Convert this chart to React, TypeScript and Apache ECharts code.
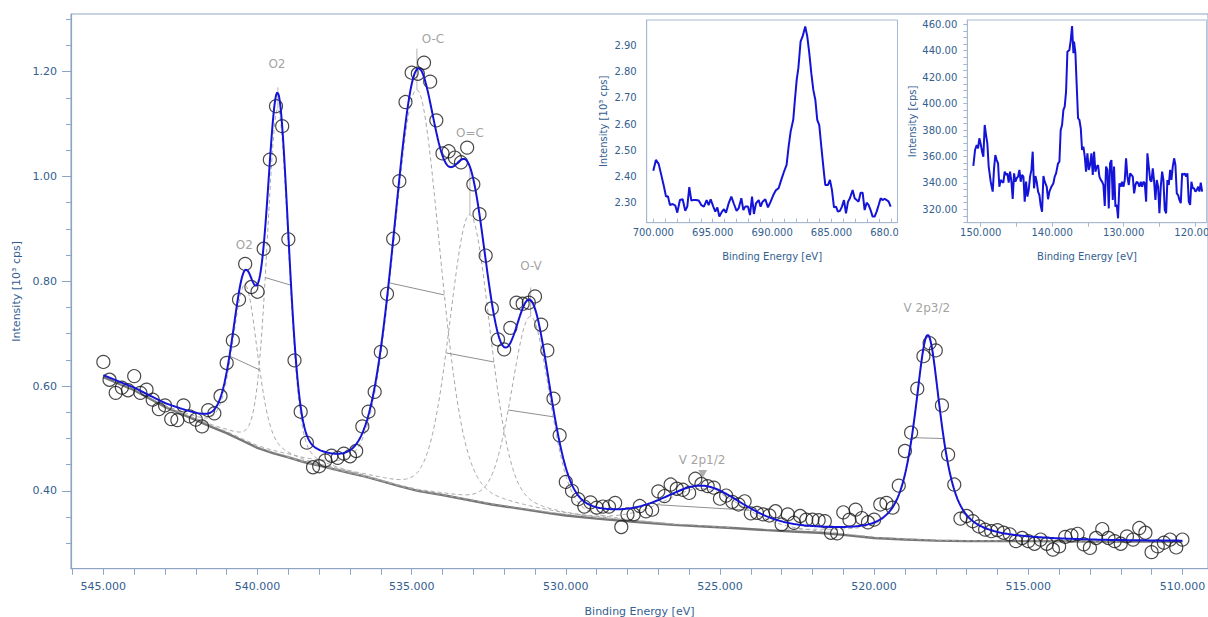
import React, { useEffect, useRef } from "react";
import * as echarts from "echarts";

// ---------- measured O 1s / V 2p region (binding energy eV, intensity 10^3 cps) ----------
const measured: [number, number][] = [
  [545.0,0.646],[544.8,0.612],[544.6,0.587],[544.4,0.597],[544.2,0.592],[544.0,0.619],[543.8,0.587],[543.6,0.593],[543.4,0.574],[543.2,0.556],
  [543.0,0.563],[542.8,0.537],[542.6,0.535],[542.4,0.563],[542.2,0.542],[542.0,0.536],[541.8,0.523],[541.6,0.554],[541.4,0.548],[541.2,0.581],
  [541.0,0.644],[540.8,0.687],[540.6,0.765],[540.4,0.833],[540.2,0.789],[540.0,0.780],[539.8,0.862],[539.6,1.032],[539.4,1.134],[539.2,1.096],
  [539.0,0.880],[538.8,0.649],[538.6,0.551],[538.4,0.492],[538.2,0.445],[538.0,0.447],[537.8,0.458],[537.6,0.467],[537.4,0.463],[537.2,0.471],
  [537.0,0.466],[536.8,0.476],[536.6,0.523],[536.4,0.551],[536.2,0.589],[536.0,0.665],[535.8,0.776],[535.6,0.881],[535.4,0.991],[535.2,1.142],
  [535.0,1.198],[534.8,1.196],[534.6,1.217],[534.4,1.181],[534.2,1.107],[534.0,1.044],[533.8,1.048],[533.6,1.036],[533.4,1.027],[533.2,1.055],
  [533.0,0.985],[532.8,0.928],[532.6,0.849],[532.4,0.748],[532.2,0.689],[532.0,0.670],[531.8,0.711],[531.6,0.759],[531.4,0.757],[531.2,0.759],
  [531.0,0.771],[530.8,0.717],[530.6,0.668],[530.4,0.576],[530.2,0.506],[530.0,0.417],[529.8,0.400],[529.6,0.384],[529.4,0.370],[529.2,0.378],
  [529.0,0.368],[528.8,0.370],[528.6,0.370],[528.4,0.377],[528.2,0.331],[528.0,0.355],[527.8,0.355],[527.6,0.371],[527.4,0.361],[527.2,0.364],
  [527.0,0.399],[526.8,0.390],[526.6,0.412],[526.4,0.404],[526.2,0.402],[526.0,0.396],[525.8,0.423],[525.6,0.413],[525.4,0.409],[525.2,0.406],
  [525.0,0.385],[524.8,0.391],[524.6,0.379],[524.4,0.374],[524.2,0.380],[524.0,0.357],[523.8,0.358],[523.6,0.355],[523.4,0.353],[523.2,0.361],
  [523.0,0.336],[522.8,0.355],[522.6,0.339],[522.4,0.352],[522.2,0.345],[522.0,0.345],[521.8,0.344],[521.6,0.342],[521.4,0.320],[521.2,0.319],
  [521.0,0.359],[520.8,0.345],[520.6,0.364],[520.4,0.348],[520.2,0.340],[520.0,0.345],[519.8,0.374],[519.6,0.377],[519.4,0.368],[519.2,0.410],
  [519.0,0.476],[518.8,0.511],[518.6,0.595],[518.4,0.657],[518.2,0.682],[518.0,0.668],[517.8,0.563],[517.6,0.469],[517.4,0.412],[517.2,0.347],
  [517.0,0.352],[516.8,0.342],[516.6,0.332],[516.4,0.326],[516.2,0.323],[516.0,0.325],[515.8,0.320],[515.6,0.317],[515.4,0.304],[515.2,0.310],
  [515.0,0.304],[514.8,0.299],[514.6,0.307],[514.4,0.299],[514.2,0.288],[514.0,0.294],[513.8,0.312],[513.6,0.315],[513.4,0.318],[513.2,0.298],
  [513.0,0.291],[512.8,0.310],[512.6,0.327],[512.4,0.310],[512.2,0.304],[512.0,0.299],[511.8,0.313],[511.6,0.307],[511.4,0.329],[511.2,0.320],
  [511.0,0.283],[510.8,0.294],[510.6,0.301],[510.4,0.307],[510.2,0.292],[510.0,0.307],
];

// Shirley-type background
const backgroundKnots: [number, number][] = [
  [545.0,0.617],[544.0,0.592],[543.0,0.560],[542.0,0.535],[541.5,0.522],[541.0,0.510],[540.5,0.496],[540.0,0.482],
  [539.5,0.472],[539.0,0.464],[538.5,0.455],[538.0,0.448],[537.5,0.441],[537.0,0.434],[536.5,0.427],[536.0,0.419],
  [535.4,0.409],[534.8,0.400],[534.0,0.392],[533.2,0.383],[532.4,0.374],[531.5,0.366],[530.5,0.357],[530.0,0.353],
  [529.0,0.347],[527.8,0.341],[526.5,0.335],[525.5,0.332],[524.6,0.329],[523.5,0.325],[522.5,0.322],[521.8,0.320],
  [521.0,0.316],[520.0,0.310],[519.0,0.307],[518.0,0.305],[517.0,0.304],[515.0,0.304],[512.5,0.303],[510.0,0.303],
];

// fitted components (GL line shapes)
const peakNames = ["O2", "O2", "O-C", "O=C", "O-V", "V 2p1/2", "V 2p3/2"];
const peakCenter = [540.40, 539.34, 534.83, 533.11, 531.14, 525.56, 518.26];
const peakHeight = [0.30, 0.66, 0.765, 0.545, 0.37, 0.072, 0.39];
const peakFwhm = [0.95, 0.82, 1.78, 1.56, 1.46, 3.0, 1.03];
const peakMix = [0.3, 0.2, 0.2, 0.2, 0.2, 0.3, 0.85];

// peak labels
const labelEnergy = [540.43, 539.37, 534.31, 533.11, 531.13, 525.58, 518.29];
const labelIntensity = [0.870, 1.214, 1.262, 1.082, 0.830, 0.458, 0.748];
const stemTop: (number | null)[] = [null, 1.170, 1.244, 1.019, 0.788, null, null];
const markerV2p12: [number, number] = [525.56, 0.432];

// tick labels
const mainXLabels = [545, 540, 535, 530, 525, 520, 515, 510];
const mainXTicks = [546,545,544,543,542,541,540,539,538,537,536,535,534,533,532,531,530,529,528,527,526,525,524,523,522,521,520,519,518,517,516,515,514,513,512,511,510];
const mainYLabels = [0.4, 0.6, 0.8, 1.0, 1.2];
const mainYTicks = [0.30,0.35,0.40,0.45,0.50,0.55,0.60,0.65,0.70,0.75,0.80,0.85,0.90,0.95,1.00,1.05,1.10,1.15,1.20,1.25,1.30];

// inset A (N 1s region)
const insetA: [number, number][] = [
  [700.00,2.422],[699.78,2.463],[699.55,2.448],[699.33,2.406],[699.10,2.361],[698.93,2.323],[698.77,2.325],[698.60,2.291],[698.37,2.295],[698.15,2.289],
  [697.98,2.262],[697.76,2.310],[697.53,2.313],[697.31,2.269],[697.14,2.285],[696.97,2.359],[696.80,2.308],[696.63,2.310],[696.41,2.310],[696.18,2.308],
  [695.96,2.291],[695.74,2.285],[695.51,2.310],[695.34,2.291],[695.17,2.313],[694.95,2.285],[694.78,2.266],[694.61,2.282],[694.44,2.247],[694.22,2.266],
  [694.05,2.275],[693.88,2.262],[693.66,2.297],[693.43,2.323],[693.21,2.295],[692.99,2.269],[692.82,2.278],[692.59,2.317],[692.42,2.272],[692.26,2.285],
  [692.03,2.285],[691.86,2.253],[691.69,2.323],[691.53,2.257],[691.36,2.297],[691.13,2.310],[690.97,2.285],[690.80,2.304],[690.57,2.313],[690.35,2.282],
  [690.12,2.304],[689.90,2.329],[689.67,2.348],[689.45,2.355],[689.23,2.387],[689.00,2.418],[688.78,2.444],[688.61,2.514],[688.44,2.571],[688.22,2.616],
  [688.08,2.692],[687.93,2.768],[687.79,2.813],[687.60,2.915],[687.43,2.934],[687.21,2.972],[687.04,2.934],[686.87,2.870],[686.70,2.794],[686.53,2.730],
  [686.36,2.692],[686.20,2.616],[686.03,2.596],[685.83,2.501],[685.63,2.412],[685.52,2.367],[685.30,2.367],[685.13,2.387],[684.96,2.348],[684.79,2.282],
  [684.62,2.285],[684.46,2.266],[684.29,2.269],[684.12,2.285],[683.95,2.310],[683.78,2.259],[683.61,2.304],[683.45,2.317],[683.22,2.348],[683.05,2.317],
  [682.88,2.310],[682.72,2.304],[682.55,2.338],[682.38,2.338],[682.21,2.272],[682.04,2.300],[681.87,2.291],[681.71,2.272],[681.54,2.247],[681.37,2.247],
  [681.20,2.266],[681.03,2.291],[680.86,2.317],[680.70,2.310],[680.53,2.315],[680.36,2.310],[680.19,2.304],[680.02,2.285],
];
const insetAXLabels = [700, 695, 690, 685, 680];
const insetAXTicks = [700,699,698,697,696,695,694,693,692,691,690,689,688,687,686,685,684,683,682,681,680];
const insetAYLabels = [2.3, 2.4, 2.5, 2.6, 2.7, 2.8, 2.9];

// inset B (cps)
const insetB: [number, number][] = [
  [151.03,352.8],[150.79,364.9],[150.56,368.7],[150.37,366.2],[150.19,373.7],[150.00,369.4],[149.81,363.6],[149.63,359.8],[149.44,383.8],[149.25,376.2],
  [149.07,369.9],[148.88,352.3],[148.60,340.9],[148.32,333.4],[148.13,351.0],[147.95,361.1],[147.76,357.3],[147.57,354.8],[147.39,337.1],[147.20,342.2],
  [147.01,340.9],[146.83,340.2],[146.64,348.5],[146.45,346.0],[146.27,347.2],[146.08,340.2],[145.89,348.5],[145.70,340.9],[145.52,327.8],[145.33,347.2],
  [145.14,340.9],[144.96,343.5],[144.77,344.7],[144.58,349.8],[144.40,340.9],[144.21,346.0],[144.02,344.7],[143.84,325.8],[143.65,340.9],[143.46,329.6],
  [143.28,334.6],[143.09,344.7],[142.90,349.8],[142.72,363.6],[142.53,335.9],[142.34,345.2],[142.16,340.9],[141.97,333.4],[141.78,330.8],[141.60,322.8],
  [141.41,318.2],[141.22,345.2],[141.04,340.9],[140.76,337.1],[140.57,327.6],[140.38,333.4],[140.10,337.1],[139.82,339.7],[139.64,344.7],[139.45,347.2],
  [139.17,354.8],[138.98,356.1],[138.80,380.0],[138.61,383.8],[138.42,395.2],[138.24,397.7],[138.05,409.0],[137.86,439.3],[137.58,440.6],[137.39,448.1],
  [137.21,458.7],[137.02,438.1],[136.93,446.9],[136.74,438.1],
  [136.55,412.8],[136.37,388.9],[136.18,387.6],[135.99,381.3],[135.81,364.9],[135.62,367.4],[135.43,359.8],[135.25,348.5],[135.06,362.4],[134.87,349.8],
  [134.69,353.5],[134.50,362.4],[134.31,346.0],[134.13,363.6],[133.94,348.5],[133.75,352.3],[133.57,353.5],[133.38,344.7],[133.19,342.2],[133.01,340.9],
  [132.82,338.4],[132.63,322.5],[132.45,352.3],[132.26,349.8],[132.07,320.7],[131.89,354.8],[131.70,357.3],[131.51,327.1],[131.33,352.3],[131.14,322.0],
  [130.95,323.3],[130.77,313.2],[130.58,339.7],[130.39,337.1],[130.21,340.9],[130.02,337.1],[129.83,342.2],[129.65,358.6],[129.46,344.7],[129.27,338.4],
  [129.08,347.2],[128.90,346.0],[128.71,344.7],[128.52,332.1],[128.34,338.4],[128.15,340.9],[127.96,339.7],[127.78,337.1],[127.59,340.9],[127.40,337.1],
  [127.22,340.9],[127.03,339.7],[126.84,325.8],[126.66,362.4],[126.47,352.3],[126.28,342.2],[126.10,340.9],[125.91,351.0],[125.72,340.9],[125.54,327.1],
  [125.35,342.2],[125.16,337.1],[124.98,317.0],[124.79,337.1],[124.60,348.5],[124.42,342.2],[124.23,319.5],[124.04,317.0],[123.86,342.2],[123.67,338.4],
  [123.48,349.8],[123.30,342.2],[123.11,352.3],[122.92,358.6],[122.74,353.5],[122.55,332.1],[122.36,330.8],[122.18,327.1],[121.99,324.6],[121.80,347.2],
  [121.62,346.0],[121.43,347.2],[121.24,344.7],[121.06,347.2],[120.87,325.8],[120.68,323.3],[120.50,340.9],[120.31,335.9],[120.12,335.9],[119.94,333.4],
  [119.75,334.6],[119.56,337.1],[119.38,333.4],[119.19,340.2],[119.00,333.4],
];
const insetBXLabels = [150, 140, 130, 120];
const insetBXTicks = [150, 145, 140, 135, 130, 125, 120];
const insetBYLabels = [320, 340, 360, 380, 400, 420, 440, 460];
const insetBYTicks = [310,315,320,325,330,335,340,345,350,355,360,365,370,375,380,385,390,395,400,405,410,415,420,425,430,435,440,445,450,455,460];

// ---------- model helpers ----------
function backgroundAt(e: number): number {
  const k = backgroundKnots;
  if (e >= k[0][0]) return k[0][1];
  for (let i = 1; i < k.length; i++) {
    if (e >= k[i][0]) {
      const [e0, v0] = k[i - 1];
      const [e1, v1] = k[i];
      return v1 + ((v0 - v1) * (e - e1)) / (e0 - e1);
    }
  }
  return k[k.length - 1][1];
}
function component(i: number, e: number): number {
  const r = (e - peakCenter[i]) / peakFwhm[i];
  const g = Math.exp(-4 * Math.LN2 * r * r);
  const l = 1 / (1 + 4 * r * r);
  return peakHeight[i] * ((1 - peakMix[i]) * g + peakMix[i] * l);
}

const AXIS = "#8ea4c4";
const INSET_AXIS = "#a7b8d2";
const TEXT = "#33608f";
const FONT = "DejaVu Sans";

export default function App() {
  const ref = useRef<HTMLDivElement>(null);
  useEffect(() => {
    if (!ref.current) return;
    const chart = echarts.init(ref.current, undefined, { renderer: "svg" });

    const eStart = measured[0][0];
    const eEnd = measured[measured.length - 1][0];
    const grid: number[] = [];
    for (let e = eStart; e >= eEnd - 1e-9; e -= 0.02) grid.push(+e.toFixed(3));

    const envelope = grid.map((e) => {
      let v = backgroundAt(e);
      for (let i = 0; i < peakCenter.length; i++) v += component(i, e);
      return [e, v];
    });

    const compSeries: any[] = peakCenter.map((c, i) => {
      const pts: number[][] = [];
      grid.forEach((e) => {
        if (Math.abs(e - c) <= 4.5 * peakFwhm[i]) pts.push([e, backgroundAt(e) + component(i, e)]);
      });
      return {
        type: "line", name: peakNames[i] + " comp", xAxisIndex: 0, yAxisIndex: 0,
        data: pts, showSymbol: false, silent: true, z: 2,
        lineStyle: { color: "#a6a6a6", width: 1, type: [4, 3] },
      };
    });

    const fwhmSeries: any[] = peakCenter.map((c, i) => {
      const hi = c + peakFwhm[i] / 2;
      const lo = c - peakFwhm[i] / 2;
      return {
        type: "line", xAxisIndex: 0, yAxisIndex: 0, showSymbol: false, silent: true, z: 3,
        data: [
          [hi, backgroundAt(hi) + component(i, hi)],
          [lo, backgroundAt(lo) + component(i, lo)],
        ],
        lineStyle: { color: "#8f8f8f", width: 1 },
      };
    });

    const stemSeries: any[] = [];
    stemTop.forEach((top, i) => {
      if (top == null) return;
      const c = peakCenter[i];
      stemSeries.push({
        type: "line", xAxisIndex: 0, yAxisIndex: 0, showSymbol: false, silent: true, z: 3,
        data: [[c, top], [c, backgroundAt(c) + component(i, c)]],
        lineStyle: { color: "#b5b5b5", width: 1 },
      });
    });

    const axisNameStyle = (size: number) => ({ color: TEXT, fontSize: size, fontFamily: FONT });

    const option: any = {
      animation: false,
      backgroundColor: "#ffffff",
      grid: [
        { left: 71, top: 14, right: 0, bottom: 48.3, show: true, borderColor: AXIS, borderWidth: 1, containLabel: false, outerBoundsMode: "none" },
        { left: 646.7, top: 20, width: 250.8, height: 202.7, show: true, borderColor: INSET_AXIS, borderWidth: 1, containLabel: false, outerBoundsMode: "none" },
        { left: 967.3, top: 20, width: 239.4, height: 202.7, show: true, borderColor: INSET_AXIS, borderWidth: 1, containLabel: false, outerBoundsMode: "none" },
      ],
      xAxis: [
        {
          type: "value", gridIndex: 0, min: 509.17, max: 546.05, inverse: true,
          axisLine: { show: true, onZero: false, lineStyle: { color: AXIS, width: 1.2 } },
          axisTick: { show: true, customValues: mainXTicks, length: 6, lineStyle: { color: AXIS } },
          axisLabel: { customValues: mainXLabels, formatter: (v: number) => v.toFixed(3), color: TEXT, fontSize: 11, fontFamily: FONT, margin: 12 },
          splitLine: { show: false },
          name: "Binding Energy [eV]", nameLocation: "middle", nameGap: 37, nameTextStyle: axisNameStyle(11),
        },
        {
          type: "value", gridIndex: 1, min: 679.444, max: 700.556, inverse: true,
          axisLine: { show: true, onZero: false, lineStyle: { color: INSET_AXIS } },
          axisTick: { show: true, inside: true, customValues: insetAXTicks, length: 4, lineStyle: { color: INSET_AXIS } },
          axisLabel: { customValues: insetAXLabels, formatter: (v: number) => v.toFixed(3), color: TEXT, fontSize: 10, fontFamily: FONT, margin: 5 },
          splitLine: { show: false },
          name: "Binding Energy [eV]", nameLocation: "middle", nameGap: 29, nameTextStyle: axisNameStyle(10),
        },
        {
          type: "value", gridIndex: 2, min: 118.36, max: 151.876, inverse: true,
          axisLine: { show: true, onZero: false, lineStyle: { color: INSET_AXIS } },
          axisTick: { show: true, customValues: insetBXTicks, length: 4, lineStyle: { color: INSET_AXIS } },
          axisLabel: { customValues: insetBXLabels, formatter: (v: number) => v.toFixed(3), color: TEXT, fontSize: 10, fontFamily: FONT, margin: 5 },
          splitLine: { show: false },
          name: "Binding Energy [eV]", nameLocation: "middle", nameGap: 29, nameTextStyle: axisNameStyle(10),
        },
      ],
      yAxis: [
        {
          type: "value", gridIndex: 0, min: 0.2514, max: 1.31,
          axisLine: { show: true, onZero: false, lineStyle: { color: AXIS, width: 1.2 } },
          axisTick: { show: true, customValues: mainYTicks, length: 5, lineStyle: { color: AXIS } },
          axisLabel: { customValues: mainYLabels, formatter: (v: number) => v.toFixed(2), color: TEXT, fontSize: 11, fontFamily: FONT, margin: 14 },
          splitLine: { show: false },
          name: "Intensity [10³ cps]", nameLocation: "middle", nameGap: 48, nameRotate: 90, nameTextStyle: axisNameStyle(11),
        },
        {
          type: "value", gridIndex: 0, min: 0.2514, max: 1.31, position: "left",
          axisLine: { show: false },
          axisTick: { show: true, customValues: mainYLabels, length: 9, lineStyle: { color: AXIS } },
          axisLabel: { show: false },
          splitLine: { show: false },
        },
        {
          type: "value", gridIndex: 1, min: 2.2237, max: 2.9966,
          axisLine: { show: true, onZero: false, lineStyle: { color: INSET_AXIS } },
          axisTick: { show: false },
          axisLabel: { customValues: insetAYLabels, formatter: (v: number) => v.toFixed(2), color: TEXT, fontSize: 10, fontFamily: FONT, margin: 10 },
          splitLine: { show: false },
          name: "Intensity [10³ cps]", nameLocation: "middle", nameGap: 38, nameRotate: 90, nameTextStyle: axisNameStyle(10),
        },
        {
          type: "value", gridIndex: 2, min: 309.86, max: 463.25,
          axisLine: { show: true, onZero: false, lineStyle: { color: INSET_AXIS } },
          axisTick: { show: true, customValues: insetBYTicks, length: 4, lineStyle: { color: INSET_AXIS } },
          axisLabel: { customValues: insetBYLabels, formatter: (v: number) => v.toFixed(2), color: TEXT, fontSize: 10, fontFamily: FONT, margin: 10 },
          splitLine: { show: false },
          name: "Intensity [cps]", nameLocation: "middle", nameGap: 50, nameRotate: 90, nameTextStyle: axisNameStyle(10),
        },
      ],
      series: [
        {
          type: "line", name: "Background", xAxisIndex: 0, yAxisIndex: 0, data: backgroundKnots,
          showSymbol: false, silent: true, z: 2, lineStyle: { color: "#767676", width: 2.4 },
        },
        ...compSeries,
        ...fwhmSeries,
        ...stemSeries,
        {
          type: "scatter", name: "Measured", xAxisIndex: 0, yAxisIndex: 0, data: measured,
          symbol: "circle", symbolSize: 13, z: 4,
          itemStyle: { color: "rgba(0,0,0,0)", borderColor: "#1c1c1c", borderWidth: 1.2 },
        },
        {
          type: "line", name: "Envelope", xAxisIndex: 0, yAxisIndex: 0, data: envelope,
          showSymbol: false, silent: true, z: 5, lineStyle: { color: "#1414d8", width: 2 },
        },
        {
          type: "scatter", name: "Labels", xAxisIndex: 0, yAxisIndex: 0, z: 6, symbolSize: 1,
          data: labelEnergy.map((e, i) => [e, labelIntensity[i], peakNames[i]]),
          itemStyle: { color: "rgba(0,0,0,0)" },
          label: {
            show: true, position: "inside", formatter: (p: any) => p.data[2],
            color: "#8a8a8a", fontSize: 12, fontFamily: FONT,
          },
        },
        {
          type: "scatter", xAxisIndex: 0, yAxisIndex: 0, z: 6, data: [markerV2p12],
          symbol: "triangle", symbolRotate: 180, symbolSize: [9, 8],
          itemStyle: { color: "#9a9a9a" },
        },
        {
          type: "line", name: "Inset A", xAxisIndex: 1, yAxisIndex: 2, data: insetA,
          showSymbol: false, silent: true, lineStyle: { color: "#1414d8", width: 2 },
        },
        {
          type: "line", name: "Inset B", xAxisIndex: 2, yAxisIndex: 3, data: insetB,
          showSymbol: false, silent: true, lineStyle: { color: "#1414d8", width: 2 },
        },
      ],
      graphic: [
        { type: "rect", z: 100, shape: { x: 898.5, y: 224, width: 22, height: 18 }, style: { fill: "#ffffff" } },
      ],
    };
    chart.setOption(option);
    return () => chart.dispose();
  }, []);

  return (
    <div
      ref={ref}
      style={{ position: "fixed", left: 0, top: 0, width: 1208, height: 617, background: "#fff" }}
    />
  );
}
